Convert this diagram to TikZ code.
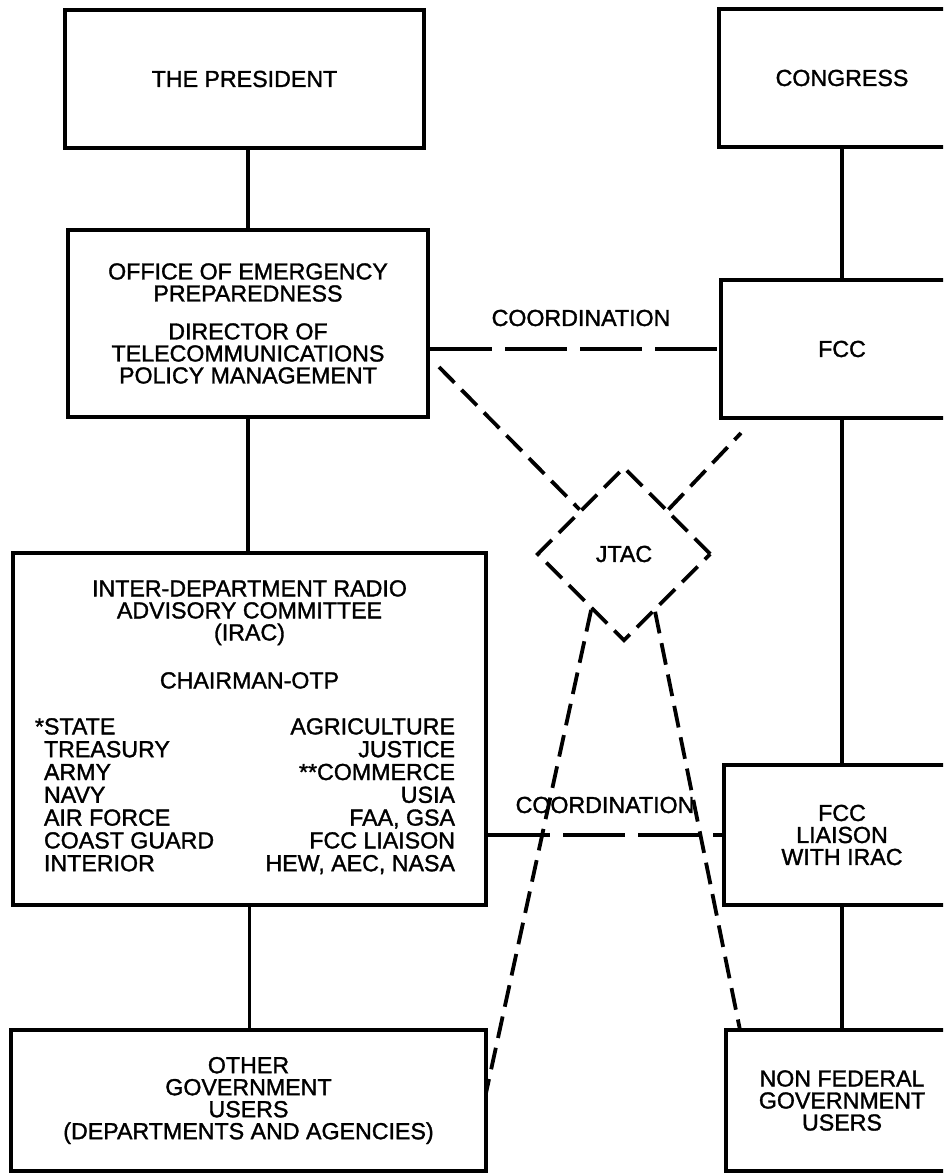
\documentclass[tikz,border=0pt]{standalone}
\usepackage{fontspec}
\setmainfont{Liberation Sans}[BoldFont={Liberation Sans},BoldFeatures={FakeBold=1.4}]
\usetikzlibrary{shapes.geometric,calc}

\begin{document}
\begin{tikzpicture}[
    x=0.5pt,y=-0.5pt,
    font=\fontsize{11.6pt}{11pt}\selectfont\bfseries,
    box/.style={draw,line width=2.3pt,align=center,inner sep=0pt},
    link/.style={line width=1.9pt},
    coord/.style={line width=1.9pt,dash pattern=on 31pt off 6.5pt},
    jlink/.style={line width=1.9pt,dash pattern=on 11pt off 5pt}
  ]
    \clip (0,0) rectangle (943,1176);
    \node[box,minimum width=179.5pt,minimum height=69pt] (president) at (244.5,79) {THE PRESIDENT};
    \node[box,minimum width=180pt,minimum height=93.5pt] (oep) at (248,323.5) {OFFICE OF EMERGENCY\\PREPAREDNESS\\[8pt]DIRECTOR OF\\TELECOMMUNICATIONS\\POLICY MANAGEMENT};
    \node[box,minimum width=236.5pt,minimum height=176pt] (irac) at (249.5,729) {INTER-DEPARTMENT RADIO\\ADVISORY COMMITTEE\\(IRAC)\\[13pt]CHAIRMAN-OTP\\[12pt]%
      \begin{tabular*}{205.5pt}[t]{@{}l@{\extracolsep{\fill}}r@{}}
        \llap{*}STATE & AGRICULTURE\\
        TREASURY & JUSTICE\\
        ARMY & **COMMERCE\\
        NAVY & USIA\\
        AIR FORCE & FAA, GSA\\
        COAST GUARD & FCC LIAISON\\
        INTERIOR & HEW, AEC, NASA
      \end{tabular*}};
    \node[box,minimum width=237.5pt,minimum height=70.5pt] (other) at (248.5,1100.5) {OTHER\\GOVERNMENT\\USERS\\(DEPARTMENTS AND AGENCIES)};
    \node[box,minimum width=123pt,minimum height=69pt] (congress) at (842,78) {CONGRESS};
    \node[box,minimum width=121pt,minimum height=69pt] (fcc) at (842,349) {FCC};
    \node[box,minimum width=118pt,minimum height=70pt] (liaison) at (842,835) {FCC\\LIAISON\\WITH IRAC};
    \node[box,minimum width=116pt,minimum height=70.5pt] (nonfed) at (842,1100.5) {NON FEDERAL\\GOVERNMENT\\USERS};
    \node[diamond,draw,jlink,aspect=1,minimum width=87pt,minimum height=87pt,inner sep=0pt] (jtac) at (624,554) {JTAC};
    \node (coordup) at (581,318) {COORDINATION};
    \node (coordlow) at (605,805) {COORDINATION};
    \coordinate (oepend) at (439,367);
    \coordinate (fccend) at (741,433);
    \coordinate (otherend) at (486,1093);
    \coordinate (nonfedend) at (740,1030);
    \draw[link] (oep.north) -- (oep.north |- president.south);
    \draw[link] (oep.south) -- (oep.south |- irac.north);
    \draw[link] (irac.south) -- (irac.south |- other.north);
    \draw[link] (fcc.north) -- (fcc.north |- congress.south);
    \draw[link] (fcc.south) -- (fcc.south |- liaison.north);
    \draw[link] (liaison.south) -- (liaison.south |- nonfed.north);
    \draw[coord] (oep.east |- fcc.west) -- (fcc.west);
    \draw[coord] (irac.east |- liaison.west) -- (liaison.west);
    \draw[jlink] (oepend) -- (jtac.north west);
    \draw[jlink] (jtac.north east) -- (fccend);
    \draw[jlink] ($(jtac.west)!0.63!(jtac.south)$) -- (otherend);
    \draw[jlink] ($(jtac.east)!0.65!(jtac.south)$) -- (nonfedend);
  \end{tikzpicture}
\end{document}
